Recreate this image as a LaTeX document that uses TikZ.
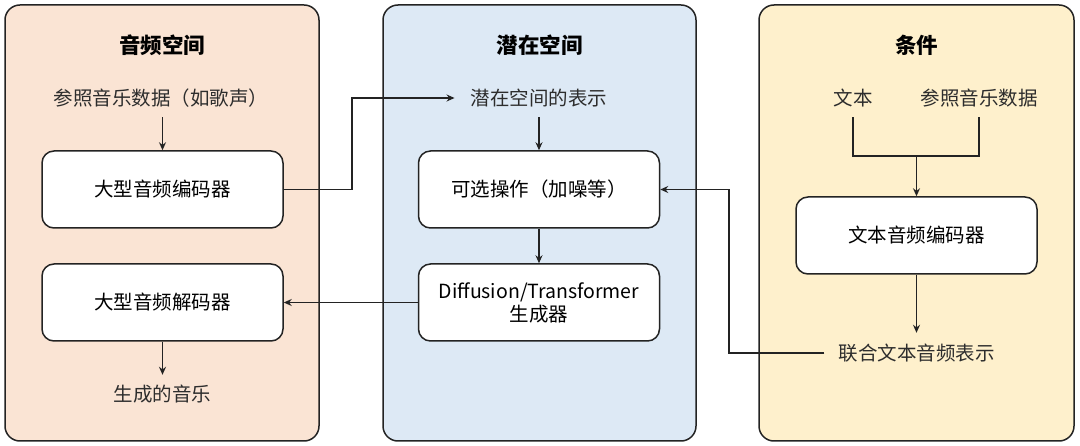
\documentclass[tikz,border=0pt]{standalone}
\usepackage{fontspec}
\setmainfont{Noto Sans CJK SC}
\usetikzlibrary{arrows.meta,calc}
\definecolor{peach}{RGB}{250,228,212}
\definecolor{lblue}{RGB}{221,233,245}
\definecolor{lyellow}{RGB}{254,240,204}
\definecolor{edgec}{RGB}{35,35,35}
\definecolor{txtc}{RGB}{45,45,45}
\begin{document}
\begin{tikzpicture}[x=1pt,y=-1pt,
  panel/.style={draw=edgec,line width=1.5pt,rounded corners=15pt,minimum width=314pt,minimum height=436pt,inner sep=0pt},
  box/.style={draw=edgec,line width=1.5pt,fill=white,rounded corners=12pt,minimum width=241pt,minimum height=77pt,inner sep=0pt,align=center,text=black,font=\fontsize{19.5}{23}\selectfont},
  title/.style={inner sep=0pt,font=\fontsize{21.5}{25}\selectfont\bfseries,text=black},
  lbl/.style={inner sep=0pt,minimum height=38pt,font=\fontsize{19.5}{23}\selectfont,text=txtc},
  arr/.style={draw=edgec,line width=1.5pt,-{Stealth[length=8pt,width=7pt]}},
  ln/.style={draw=edgec,line width=1.5pt}]
\useasboundingbox (0,0) rectangle (1080,446);
% panels
\node[panel,fill=peach] (pA) at (162,223) {};
\node[panel,fill=lblue,minimum width=313pt] (pB) at (539.5,223) {};
\node[panel,fill=lyellow,minimum width=315pt] (pC) at (916.5,223) {};
% titles
\node[title] (tA) at (162,45) {音频空间};
\node[title] (tB) at (539.5,45) {潜在空间};
\node[title] (tC) at (916.5,45) {条件};
% left
\node[lbl] (ref) at (161,98) {参照音乐数据（如歌声）};
\node[box] (enc) at (162.5,189.5) {大型音频编码器};
\node[box] (dec) at (162.5,302.5) {大型音频解码器};
\node[lbl] (out) at (162.5,394) {生成的音乐};
% middle
\node[lbl] (lat) at (539,98) {潜在空间的表示};
\node[box] (opt) at (539,189.5) {可选操作（加噪等）};
\node[box] (gen) at (539,302.5) {Diffusion/Transformer\\生成器};
% right
\node[lbl] (txt) at (853,98) {文本};
\node[lbl] (ref2) at (979,98) {参照音乐数据};
\node[box] (tae) at (916.5,235.5) {文本音频编码器};
\node[lbl] (joint) at (916.5,353) {联合文本音频表示};
\coordinate (mrg) at (916.5,156);
% connectors left
\draw[arr] (ref.south -| enc.north) -- (enc.north);
\draw[arr] (dec.south) -- (out.north);
% middle
\draw[arr] (lat.south -| opt.north) -- (opt.north);
\draw[arr] (opt.south) -- (gen.north);
% right
\draw[ln] (txt.south) |- (mrg) -| (ref2.south);
\draw[arr] (mrg) -- (tae.north);
\draw[arr] (tae.south) -- ([yshift=1pt]joint.north);
% cross connectors
\draw[arr] (enc.east) -- (352,189.5) |- ([xshift=-16pt]lat.west);
\draw[arr] (gen.west) -- (dec.east);
\draw[arr] ([xshift=-14pt]joint.west) -- (729,353) |- (opt.east);
\end{tikzpicture}
\end{document}
